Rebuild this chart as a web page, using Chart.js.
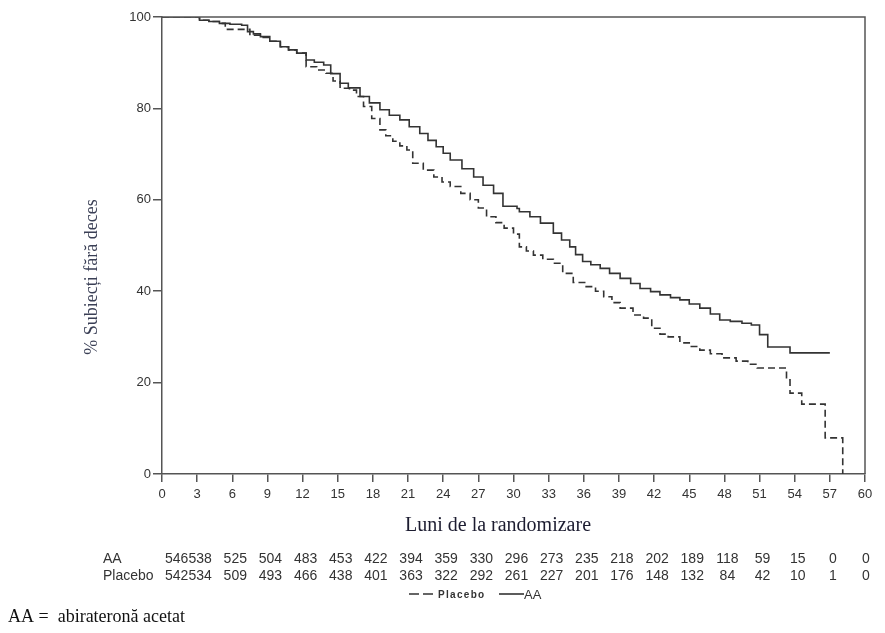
<!DOCTYPE html>
<html>
<head>
<meta charset="utf-8">
<script src="https://cdn.jsdelivr.net/npm/chart.js@4/dist/chart.umd.min.js"></script>
<style>
  html, body { margin: 0; padding: 0; background: #fff; }
  canvas { display: block; }
</style>
</head>
<body>
<canvas id="km" width="885" height="633"></canvas>
<script>
// Kaplan-Meier, % subjects without death
var monthsAA = [0, 2.5, 3.2, 4, 4.9, 5.8, 6.8, 7.3, 7.8, 8.4, 9.2, 10.1, 10.8, 11.5, 12.3, 13, 13.8, 14.4, 15.2, 15.9, 16.9, 17.7, 18.6, 19.4, 20.3, 21.1, 22, 22.7, 23.4, 24, 24.6, 25.6, 26.6, 27.4, 28.3, 29.1, 30.3, 30.5, 31.4, 32.3, 33.4, 34.1, 34.8, 35.3, 35.9, 36.6, 37.4, 38.2, 39.1, 40, 40.8, 41.7, 42.5, 43.4, 44.2, 45, 45.9, 46.8, 47.6, 48.5, 49.5, 50.3, 51, 51.7, 53.6, 57];
var survAA = [100, 100, 99.3, 99, 98.6, 98.4, 98.2, 96.8, 96.3, 95.7, 94.7, 93.5, 92.8, 92.1, 90.6, 90.1, 89.5, 87.6, 85.5, 84.5, 82.6, 81.2, 79.7, 78.5, 77.5, 76, 74.5, 73, 71.6, 70.2, 68.7, 66.8, 65, 63.2, 61.4, 58.6, 58.1, 57.4, 56.3, 54.9, 52.7, 51.2, 49.7, 48, 46.5, 45.8, 45, 43.9, 42.8, 41.7, 40.6, 39.9, 39.2, 38.6, 38.1, 37.2, 36.3, 35, 33.7, 33.4, 33, 32.6, 30.5, 27.8, 26.5, 26.5];

var monthsPlacebo = [0, 2.5, 3.2, 4, 4.9, 5.4, 6.9, 7.5, 8.4, 9.2, 10.1, 10.8, 11.5, 12.3, 13.2, 14, 14.6, 15.2, 16, 16.6, 17.2, 17.9, 18.6, 19.1, 19.7, 20.3, 20.9, 21.4, 22.3, 23.2, 23.9, 24.6, 25.5, 26.3, 27, 27.7, 28.5, 29.2, 30, 30.5, 31.1, 31.7, 32.5, 33.4, 34.2, 35.1, 36.2, 37, 37.7, 38.4, 39.1, 40.2, 41.1, 41.8, 42.5, 43.2, 44.2, 45, 45.9, 46.8, 47.8, 49, 50, 50.8, 53.3, 53.6, 54.6, 56.6, 58.1];
var survPlacebo = [100, 100, 99.3, 99, 98.6, 97.3, 97.3, 96, 95.5, 94.7, 93.5, 92.8, 92.1, 89.1, 88.4, 87.7, 86, 84.4, 84, 82.6, 80.4, 77.8, 75.3, 74, 72.8, 71.8, 70.9, 68, 66.5, 65, 63.9, 62.9, 61.4, 60, 58.2, 56.3, 55, 53.8, 52.5, 49.7, 48.8, 47.9, 47, 46.1, 43.9, 41.9, 41, 40, 38.8, 37.5, 36.3, 34.8, 34.1, 31.9, 30.6, 30, 28.7, 27.9, 27.1, 26.3, 25.4, 24.7, 24, 23.2, 20.6, 17.7, 15.3, 7.9, 0];

// number at risk, one per x tick
var xTicks = [0, 3, 6, 9, 12, 15, 18, 21, 24, 27, 30, 33, 36, 39, 42, 45, 48, 51, 54, 57, 60];
var atRiskAA = [546, 538, 525, 504, 483, 453, 422, 394, 359, 330, 296, 273, 235, 218, 202, 189, 118, 59, 15, 0, 0];
var atRiskPlacebo = [542, 534, 509, 493, 466, 438, 401, 363, 322, 292, 261, 227, 201, 176, 148, 132, 84, 42, 10, 1, 0];

function toPoints(xs, ys) {
  return xs.map(function (x, i) { return { x: x, y: ys[i] }; });
}

var lineCol = '#333';
var axisCol = '#555';

var extras = {
  id: 'extras',
  afterDraw: function (chart) {
    var c = chart.ctx, a = chart.chartArea, xs = chart.scales.x;
    c.save();
    // frame top + right
    c.strokeStyle = axisCol;
    c.lineWidth = 1.5;
    c.beginPath();
    c.moveTo(a.left, a.top);
    c.lineTo(a.right, a.top);
    c.lineTo(a.right, a.bottom);
    c.stroke();

    // y title
    c.save();
    c.translate(92, 277);
    c.rotate(-Math.PI / 2);
    c.fillStyle = '#3a3f55';
    c.font = '18px "Liberation Serif"';
    c.textAlign = 'center';
    c.textBaseline = 'middle';
    c.fillText('% Subiecți fără deces', 0, 0);
    c.restore();

    // x title
    c.fillStyle = '#1c1c30';
    c.font = '20px "Liberation Serif"';
    c.textAlign = 'center';
    c.textBaseline = 'middle';
    c.fillText('Luni de la randomizare', 498, 526);

    // at-risk table
    c.fillStyle = '#333';
    c.font = '14px "Liberation Sans"';
    c.textAlign = 'left';
    c.fillText('AA', 103, 559);
    c.fillText('Placebo', 103, 576);
    xTicks.forEach(function (t, i) {
      var px = xs.getPixelForValue(t) + 3;
      c.textAlign = i === 0 ? 'left' : 'center';
      if (i === xTicks.length - 1) px = xs.getPixelForValue(t) + 1;
      c.fillText(String(atRiskAA[i]), px, 559);
      c.fillText(String(atRiskPlacebo[i]), px, 576);
    });

    // legend
    var ly = 594;
    c.strokeStyle = lineCol;
    c.lineWidth = 1.6;
    c.setLineDash([10, 4]);
    c.beginPath();
    c.moveTo(409, ly);
    c.lineTo(437, ly);
    c.stroke();
    c.setLineDash([]);
    c.beginPath();
    c.moveTo(499, ly);
    c.lineTo(524, ly);
    c.stroke();
    c.textAlign = 'left';
    c.fillStyle = '#333';
    c.font = 'bold 10px "Liberation Sans"';
    c.letterSpacing = '1.3px';
    c.fillText('Placebo', 438, ly + 1);
    c.letterSpacing = '0px';
    c.font = '13px "Liberation Sans"';
    c.fillText('AA', 524, ly + 1);

    // footnote
    c.fillStyle = '#111';
    c.font = '18px "Liberation Serif"';
    c.fillText('AA =  abirateronă acetat', 8, 617);
    c.restore();
  }
};

new Chart(document.getElementById('km').getContext('2d'), {
  type: 'line',
  data: {
    datasets: [{
      label: 'Placebo',
      data: toPoints(monthsPlacebo, survPlacebo),
      borderColor: lineCol,
      borderWidth: 1.6,
      borderDash: [7, 4],
      stepped: true,
      pointRadius: 0,
      fill: false
    }, {
      label: 'AA',
      data: toPoints(monthsAA, survAA),
      borderColor: lineCol,
      borderWidth: 1.6,
      stepped: true,
      pointRadius: 0,
      fill: false
    }]
  },
  options: {
    responsive: false,
    animation: false,
    devicePixelRatio: 1,
    layout: { padding: { top: 17, right: 20, left: 0, bottom: 0 } },
    plugins: { legend: { display: false }, tooltip: { enabled: false } },
    scales: {
      x: {
        type: 'linear',
        min: 0, max: 60,
        afterFit: function (s) { s.height = 159; },
        afterBuildTicks: function (s) { s.ticks = xTicks.map(function (v) { return { value: v }; }); },
        ticks: { color: '#333', font: { family: 'Liberation Sans', size: 13 }, padding: 5, maxRotation: 0, autoSkip: false },
        grid: { drawOnChartArea: false, tickLength: 8, color: axisCol, lineWidth: 1.5 },
        border: { color: axisCol, width: 1.5 }
      },
      y: {
        min: 0, max: 100,
        afterFit: function (s) { s.width = 162; },
        ticks: { stepSize: 20, color: '#333', font: { family: 'Liberation Sans', size: 13 }, padding: 2 },
        grid: { drawOnChartArea: false, tickLength: 9, color: axisCol, lineWidth: 1.5 },
        border: { color: axisCol, width: 1.5 }
      }
    }
  },
  plugins: [extras]
});
</script>
</body>
</html>
